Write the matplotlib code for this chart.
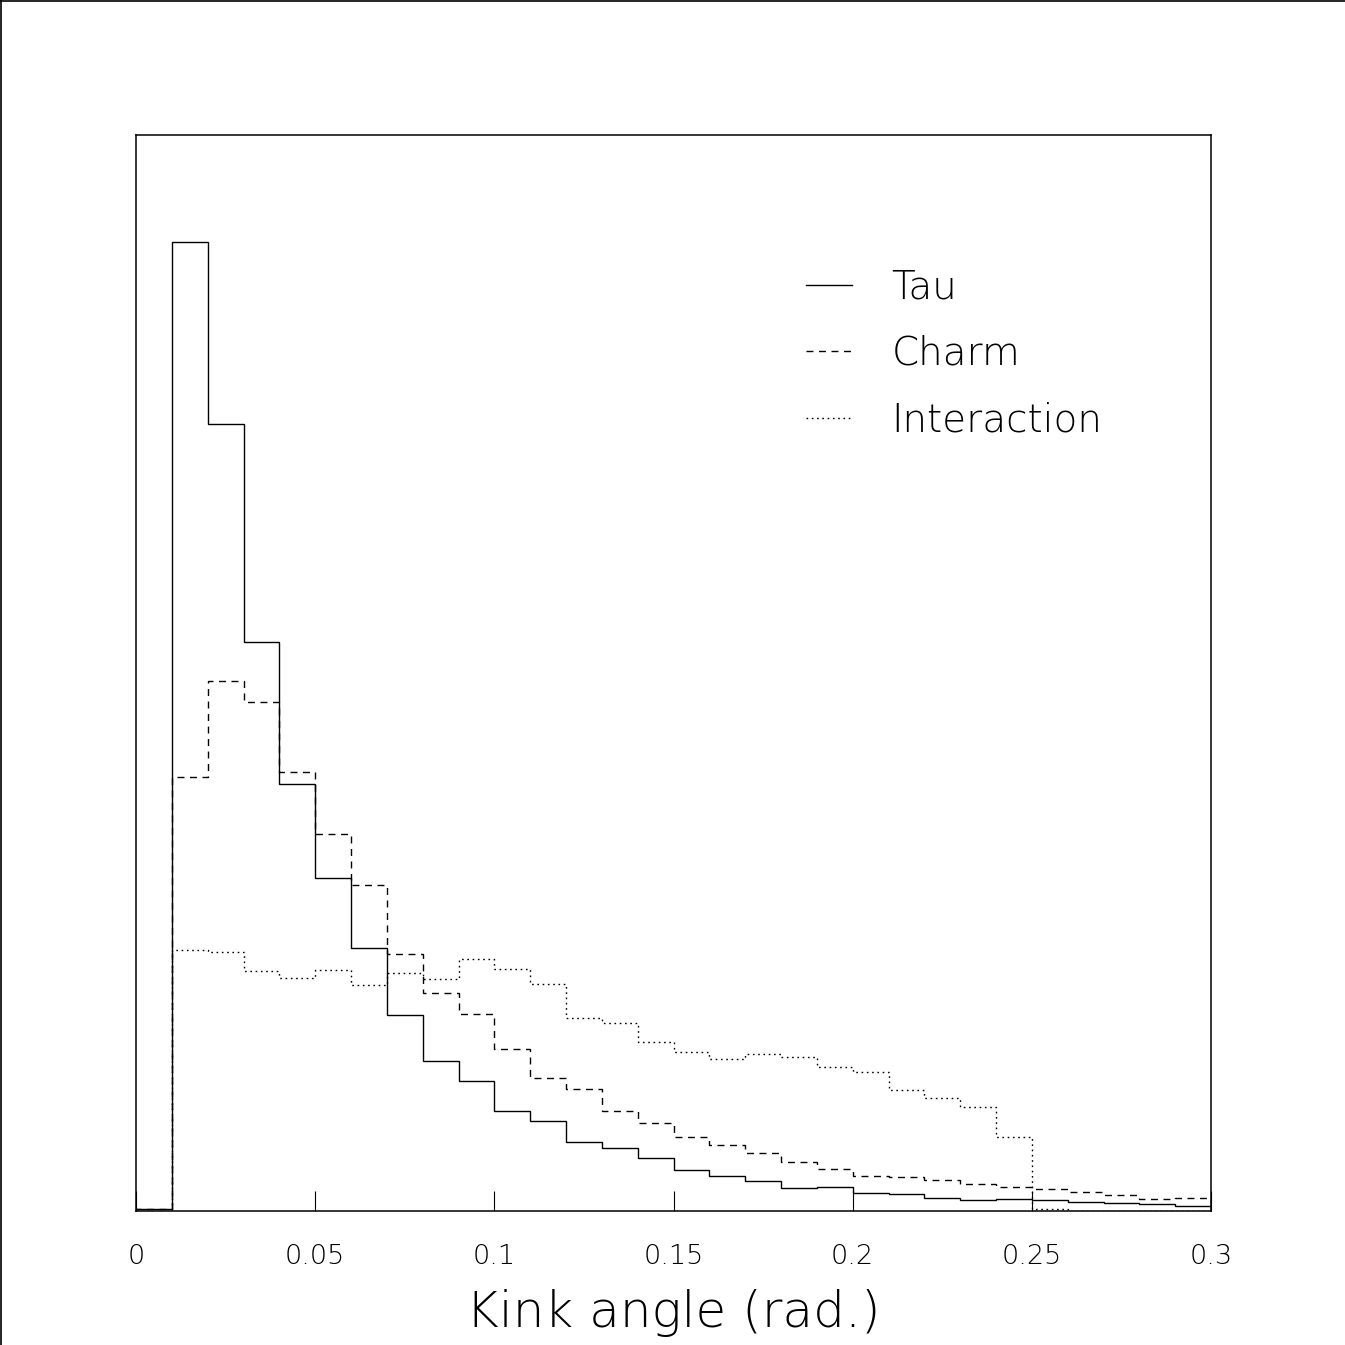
import matplotlib
matplotlib.use("Agg")
import matplotlib.pyplot as plt
import numpy as np
from matplotlib.lines import Line2D

# Bin edges: 30 bins of 0.01 rad from 0 to 0.3
bin_edges = np.round(np.arange(0, 0.3001, 0.01), 3)

# Arbitrary units
tau = [2, 969, 787, 569, 427, 333, 263, 196, 150, 130,
       100, 90, 69, 63, 53, 41, 35, 30, 23, 24,
       18, 17, 13, 11, 12, 11, 9, 8, 7, 5]
charm = [2, 434, 530, 509, 439, 377, 326, 257, 218, 197,
         162, 133, 122, 100, 88, 74, 66, 58, 49, 42,
         35, 34, 31, 27, 24, 22, 19, 16, 12, 13]
interaction = [0, 261, 259, 240, 233, 241, 226, 238, 232, 252,
               242, 227, 193, 188, 169, 159, 152, 157, 154, 144,
               139, 121, 113, 104, 74, 2, 0, 0, 0, 0]

labels = ["Tau", "Charm", "Interaction"]
xticks = [0, 0.05, 0.1, 0.15, 0.2, 0.25, 0.3]
xtick_labels = ["0", "0.05", "0.1", "0.15", "0.2", "0.25", "0.3"]

plt.rcParams['font.family'] = ['DejaVu Sans']

fig = plt.figure(figsize=(13.45, 13.45), dpi=100)
ax = fig.add_axes([136/1345, 1 - 1211/1345, 1075/1345, 1076/1345])

lw = 1.0
dash = (0, (5, 4))
dot = (0, (1.2, 2.6))
h1 = ax.stairs(tau, bin_edges, baseline=0, color='black', lw=lw, linestyle='-')
h2 = ax.stairs(charm, bin_edges, baseline=0, color='black', lw=lw, linestyle=dash)
h3 = ax.stairs(interaction, bin_edges, baseline=0, color='black', lw=lw, linestyle=dot)

ax.set_xlim(0, 0.3)
ax.set_ylim(0, 1076)
ax.set_yticks([])
ax.set_xticks(xticks)
ax.set_xticklabels(xtick_labels, fontsize=19.5, fontweight='light')
ax.tick_params(axis='x', direction='in', length=14.5, width=0.8, pad=24)
for s in ax.spines.values():
    s.set_linewidth(1.1)

ax.set_xlabel("Kink angle (rad.)", fontsize=36, fontweight='light', labelpad=14)

handles = [Line2D([], [], color='black', lw=lw, linestyle='-'),
           Line2D([], [], color='black', lw=lw, linestyle=dash),
           Line2D([], [], color='black', lw=lw, linestyle=dot)]
leg = ax.legend(handles, labels, loc='upper left', bbox_to_anchor=(0.623, 0.876),
                frameon=False, borderpad=0, borderaxespad=0,
                handlelength=1.2, handletextpad=1.0, labelspacing=0.73,
                prop={'size': 28, 'weight': 'light'})

# figure frame (top and left)
fig.add_artist(Line2D([0.0008, 0.0008], [0, 1], transform=fig.transFigure, color='black', lw=1.2))
fig.add_artist(Line2D([0, 1], [0.9993, 0.9993], transform=fig.transFigure, color='black', lw=1.2))

fig.savefig("out.png", dpi=100, facecolor='white')
